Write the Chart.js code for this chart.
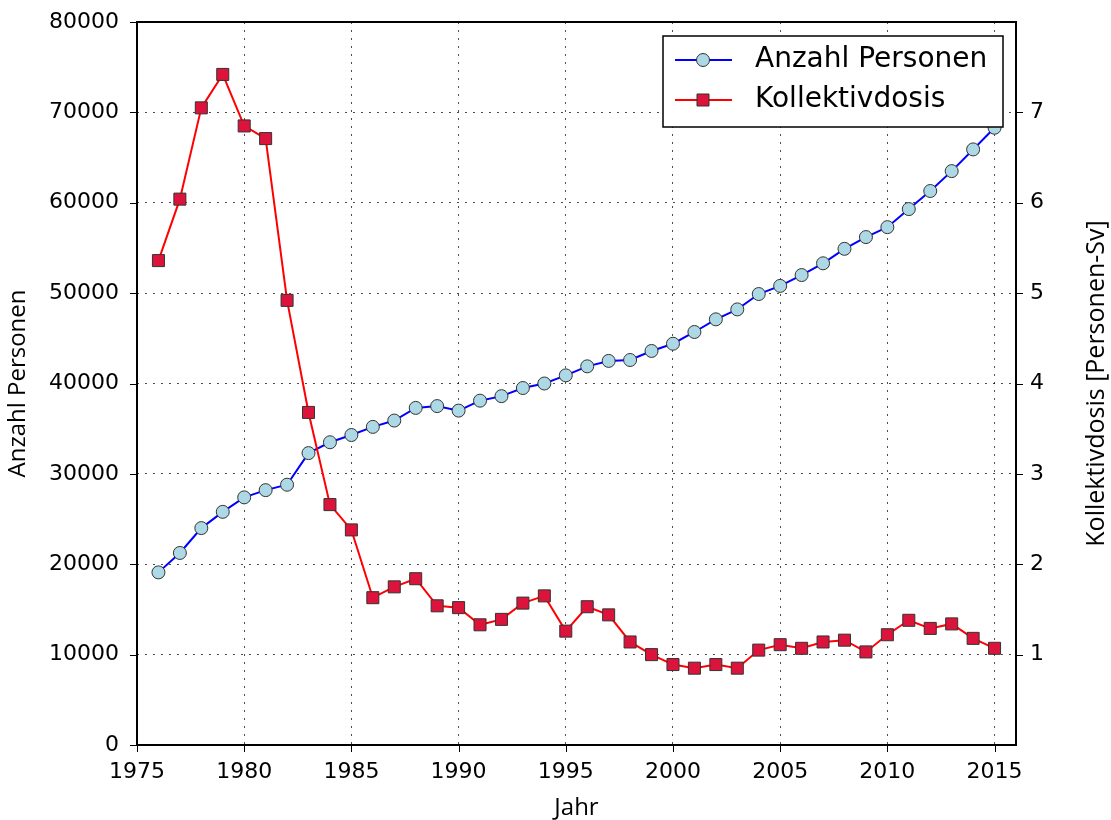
<!DOCTYPE html>
<html>
<head>
<meta charset="utf-8">
<script src="https://cdn.jsdelivr.net/npm/chart.js@4.4.1/dist/chart.umd.min.js"></script>
<style>
  html, body { margin: 0; padding: 0; background: #fff; }
  #wrap { width: 1111px; height: 820px; }
</style>
</head>
<body>
<div id="wrap"><canvas id="chart" width="1111" height="820"></canvas></div>
<script>
// data
const years = [1976, 1977, 1978, 1979, 1980, 1981, 1982, 1983, 1984, 1985,
    1986, 1987, 1988, 1989, 1990, 1991, 1992, 1993, 1994, 1995,
    1996, 1997, 1998, 1999, 2000, 2001, 2002, 2003, 2004, 2005,
    2006, 2007, 2008, 2009, 2010, 2011, 2012, 2013, 2014, 2015];
const personen = [19100, 21250, 24000, 25800, 27400, 28200, 28800, 32300, 33500, 34300,
    35200, 35900, 37300, 37500, 37000, 38100, 38600, 39500, 40000, 40900,
    41900, 42500, 42600, 43600, 44400, 45700, 47100, 48200, 49900, 50800,
    52000, 53300, 54900, 56200, 57300, 59300, 61300, 63500, 65900, 68300];
const kollektivdosis = [5.36, 6.04, 7.05, 7.42, 6.85, 6.71, 4.92, 3.68, 2.66, 2.38,
    1.63, 1.75, 1.84, 1.54, 1.52, 1.33, 1.39, 1.57, 1.65, 1.26,
    1.53, 1.44, 1.14, 1.00, 0.89, 0.85, 0.89, 0.85, 1.05, 1.11,
    1.07, 1.14, 1.16, 1.03, 1.22, 1.38, 1.29, 1.34, 1.18, 1.07];
const xTicks = [1975, 1980, 1985, 1990, 1995, 2000, 2005, 2010, 2015];
const y2Ticks = [1, 2, 3, 4, 5, 6, 7];
const y2Title = 'Kollektivdosis [Personen-Sv]';

const FONT = 'DejaVu Sans';
const TITLE_FONT = 'Open Sans';
const tickFont = { family: FONT, size: 22 };
const titleFont = { family: TITLE_FONT, size: 24, lineHeight: 1 };
const gridDotted = { color: 'rgba(0,0,0,0.7)', lineWidth: 1, drawTicks: false };
const dotted = { display: false, dash: [2, 6] };

// fixed box sizes so the plot area lands where the reference has it
const fixWidth = w => s => { s.width = w; s.paddingTop = 0; s.paddingBottom = 0; };

// frame, outward ticks and the right axis title (reads bottom-to-top like matplotlib)
const framePlugin = {
    id: 'frame',
    afterDatasetsDraw(chart) {
        const { ctx, chartArea: a, scales } = chart;
        ctx.save();
        ctx.strokeStyle = '#000';
        ctx.lineWidth = 1;
        ctx.beginPath();
        xTicks.forEach(v => {
            const px = Math.round(scales.x.getPixelForValue(v)) + 0.5;
            ctx.moveTo(px, a.bottom); ctx.lineTo(px, a.bottom + 7);
        });
        scales.y.ticks.forEach(t => {
            const py = Math.round(scales.y.getPixelForValue(t.value)) + 0.5;
            ctx.moveTo(a.left, py); ctx.lineTo(a.left - 7, py);
        });
        y2Ticks.forEach(v => {
            const py = Math.round(scales.y2.getPixelForValue(v)) + 0.5;
            ctx.moveTo(a.right, py); ctx.lineTo(a.right + 7, py);
        });
        ctx.stroke();
        ctx.lineWidth = 2;
        ctx.strokeRect(a.left, a.top, a.right - a.left, a.bottom - a.top);

        ctx.translate(1097, (a.top + a.bottom) / 2);
        ctx.rotate(-Math.PI / 2);
        ctx.fillStyle = '#000';
        ctx.font = '25px "' + TITLE_FONT + '"';
        ctx.textAlign = 'center';
        ctx.textBaseline = 'middle';
        ctx.fillText(y2Title, 0, 0);
        ctx.restore();
    }
};

// legend box inside the plot, upper right
const legendPlugin = {
    id: 'boxLegend',
    afterDraw(chart) {
        const { ctx, chartArea: a } = chart;
        const w = 340, h = 91;
        const x0 = a.right - 13 - w, y0 = a.top + 14;
        ctx.save();
        ctx.fillStyle = '#fff';
        ctx.fillRect(x0, y0, w, h);
        ctx.strokeStyle = '#000';
        ctx.lineWidth = 1.5;
        ctx.strokeRect(x0, y0, w, h);
        ctx.font = '28px "' + FONT + '"';
        ctx.textBaseline = 'middle';
        chart.data.datasets.forEach((ds, i) => {
            const yy = y0 + 24 + i * 40;
            const mx = x0 + 40;
            ctx.strokeStyle = ds.borderColor;
            ctx.lineWidth = ds.borderWidth;
            ctx.beginPath();
            ctx.moveTo(x0 + 12, yy); ctx.lineTo(x0 + 69, yy);
            ctx.stroke();
            ctx.fillStyle = ds.pointBackgroundColor;
            ctx.strokeStyle = ds.pointBorderColor;
            ctx.lineWidth = 1;
            ctx.beginPath();
            if (ds.pointStyle === 'circle') {
                ctx.arc(mx, yy, ds.pointRadius, 0, Math.PI * 2);
            } else {
                const s = ds.pointRadius * Math.SQRT1_2;
                ctx.rect(mx - s, yy - s, 2 * s, 2 * s);
            }
            ctx.fill(); ctx.stroke();
            ctx.fillStyle = '#000';
            ctx.fillText(ds.label, x0 + 92, yy);
        });
        ctx.restore();
    }
};

new Chart(document.getElementById('chart'), {
    type: 'line',
    data: {
        datasets: [
            {
                label: 'Anzahl Personen',
                data: years.map((y, i) => ({ x: y, y: personen[i] })),
                yAxisID: 'y',
                borderColor: '#0000ff',
                borderWidth: 2,
                pointStyle: 'circle',
                pointRadius: 6.5,
                pointBackgroundColor: '#add8e6',
                pointBorderColor: '#333',
                pointBorderWidth: 1,
                order: 2
            },
            {
                label: 'Kollektivdosis',
                data: years.map((y, i) => ({ x: y, y: kollektivdosis[i] })),
                yAxisID: 'y2',
                borderColor: '#ff0000',
                borderWidth: 2,
                pointStyle: 'rect',
                pointRadius: 8.5,
                pointBackgroundColor: '#dc143c',
                pointBorderColor: '#333',
                pointBorderWidth: 1,
                order: 1
            }
        ]
    },
    options: {
        responsive: false,
        animation: false,
        layout: { padding: { top: 22, left: 0, right: 0, bottom: 0 } },
        plugins: { legend: { display: false }, tooltip: { enabled: false } },
        scales: {
            x: {
                type: 'linear',
                min: 1975,
                max: 2016,
                afterBuildTicks: s => { s.ticks = xTicks.map(v => ({ value: v })); },
                afterFit: s => { s.height = 75; },
                ticks: { font: tickFont, color: '#000', padding: 14, maxRotation: 0, callback: v => String(v) },
                grid: gridDotted,
                border: dotted,
                title: { display: true, text: 'Jahr', font: titleFont, color: '#000', padding: { top: 0, bottom: 0 } }
            },
            y: {
                position: 'left',
                min: 0,
                max: 80000,
                ticks: { stepSize: 10000, font: tickFont, color: '#000', padding: 18, callback: v => String(v) },
                afterFit: fixWidth(137),
                grid: gridDotted,
                border: dotted,
                title: { display: true, text: 'Anzahl Personen', font: titleFont, color: '#000', padding: { top: 6, bottom: 0 } }
            },
            y2: {
                position: 'right',
                min: 0,
                max: 8,
                afterBuildTicks: s => { s.ticks = y2Ticks.map(v => ({ value: v })); },
                afterFit: fixWidth(95),
                ticks: { font: tickFont, color: '#000', padding: 14, callback: v => String(v) },
                grid: { display: false, drawTicks: false },
                border: { display: false }
            }
        }
    },
    plugins: [framePlugin, legendPlugin]
});
</script>
</body>
</html>
